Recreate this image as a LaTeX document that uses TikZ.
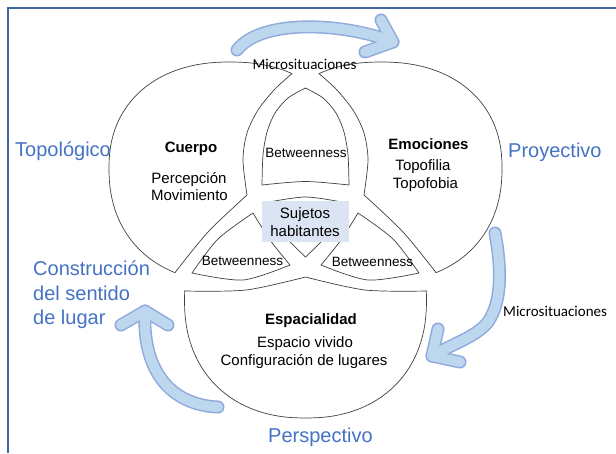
\documentclass[tikz,border=0pt]{standalone}
\usepackage{fontspec}
\setmainfont{Liberation Sans}
\newfontfamily\carlito{Carlito}
\definecolor{blueone}{RGB}{68,114,196}
\definecolor{arrowfillc}{RGB}{189,215,238}
\definecolor{arrowedge}{RGB}{143,170,220}
\definecolor{framec}{RGB}{65,100,165}
\definecolor{boxc}{RGB}{219,228,243}
\tikzset{declare function={spow(\a)=sign(\a)*(abs(\a)+0.00001)^0.9;}}
\begin{document}
\begin{tikzpicture}[x=1pt,y=-1pt,
 region/.style={draw=black!75,line width=0.7pt,fill=white},
 body/.style={font=\fontsize{15}{18}\selectfont,inner sep=0pt,anchor=base},
 head/.style={font=\fontsize{15}{18}\selectfont\bfseries,inner sep=0pt,anchor=base},
 betw/.style={font=\fontsize{13.5}{16}\selectfont,inner sep=0pt,anchor=base},
 micro/.style={font=\carlito\fontsize{15}{18}\selectfont,inner sep=0pt},
 lbl/.style={font=\fontsize{20}{24}\selectfont,text=blueone,inner sep=0pt,anchor=base west},
 arrB/.style={draw=arrowedge,line width=13pt,line cap=round,line join=round},
 arrF/.style={draw=arrowfillc,line width=10pt,line cap=round,line join=round}]
\useasboundingbox (0,0) rectangle (616,453);
\fill[white] (0,0) rectangle (616,453);
\draw[framec,line width=1.2pt] (8,453) -- (8,8) -- (616,8);

% A only (Cuerpo)
\draw[region] plot[domain=61.6:180,samples=40,variable=\t] ({230+121*spow(cos(\t))},{168-106*spow(sin(\t))})
 -- plot[domain=180:245.4,samples=25,variable=\t] ({230+121*spow(cos(\t))},{168-114*spow(sin(\t))})
 -- plot[smooth] coordinates {(175,272.6) (208,232) (247,195)}
 -- plot[smooth] coordinates {(247,195) (243,160) (247,133) (258,110) (275,89) (292,73.6)} -- cycle;
% B only (Emociones)
\draw[region] plot[domain=-65.4:0,samples=25,variable=\t] ({381+121*spow(cos(\t))},{168-114*spow(sin(\t))})
 -- plot[domain=0:118.4,samples=40,variable=\t] ({381+121*spow(cos(\t))},{168-106*spow(sin(\t))})
 -- plot[smooth] coordinates {(319,73.6) (336,89) (353,110) (364,133) (368,160) (364,195)}
 -- plot[smooth] coordinates {(364,195) (403,232) (436,272.6)} -- cycle;
% top lens
\draw[region] plot[smooth] coordinates {(262,185) (263,155) (267,132) (275,113) (288,98) (305.5,88)}
 -- plot[smooth] coordinates {(305.5,88) (323,98) (336,113) (344,132) (348,155) (349,185)}
 -- plot[smooth] coordinates {(349,185) (305.5,181.5) (262,185)} -- cycle;
% centre
\draw[region] plot[smooth] coordinates {(264,203) (305.5,197) (347,203)}
 -- plot[smooth] coordinates {(347,203) (329,233) (305.5,257)}
 -- plot[smooth] coordinates {(305.5,257) (282,233) (264,203)} -- cycle;
% lower left lens
\draw[region] plot[smooth] coordinates {(192,273) (218,239) (253,213)}
 -- plot[smooth] coordinates {(253,213) (270,240) (290,265)}
 -- plot[smooth] coordinates {(290,265) (243,280) (192,273)} -- cycle;
% lower right lens
\draw[region] plot[smooth] coordinates {(419,273) (393,239) (358,213)}
 -- plot[smooth] coordinates {(358,213) (341,240) (321,265)}
 -- plot[smooth] coordinates {(321,265) (368,280) (419,273)} -- cycle;
% C only (Espacialidad)
\draw[region] plot[domain=176.7:363.3,samples=60,variable=\t] ({305.5+121*spow(cos(\t))},{300-118*spow(sin(\t))})
 -- plot[smooth] coordinates {(426.3,291) (365,290) (305.5,277)}
 -- plot[smooth] coordinates {(305.5,277) (246,290) (184.7,291)} -- cycle;

\fill[boxc] (262,201) rectangle (349,242);

% texts
\node[micro,anchor=base] (mtop) at (304.5,69) {Microsituaciones};
\node[micro,anchor=base west] (mright) at (503,316.5) {Microsituaciones};
\node[head] (cuerpo) at (191,152) {Cuerpo};
\node[body] (perc) at (189,183) {Percepción};
\node[body] (movi) at (189.5,200.7) {Movimiento};
\node[head] (emoc) at (428.5,149) {Emociones};
\node[body] (tfil) at (423,170.5) {Topofilia};
\node[body] (tfob) at (425.5,188) {Topofobia};
\node[betw] (btop) at (306,157) {Betweenness};
\node[betw] (bleft) at (242.5,265) {Betweenness};
\node[betw] (bright) at (372.5,266.5) {Betweenness};
\node[body] (suj) at (305,218) {Sujetos};
\node[body] (hab) at (305,236) {habitantes};
\node[head] (espa) at (311,324) {Espacialidad};
\node[body] (eviv) at (305,347) {Espacio vivido};
\node[body] (conf) at (304,365) {Configuración de lugares};

\node[lbl] (topo) at (15,156) {Topológico};
\node[lbl] (proy) at (508,157) {Proyectivo};
\node[lbl] (pers) at (268,442) {Perspectivo};
\node[lbl] (con1) at (33,275) {Construcción};
\node[lbl] (con2) at (33,300) {del sentido};
\node[lbl] (con3) at (33,324) {de lugar};

% arrows
\coordinate (ta0) at (237,50);
\coordinate (ta1) at (393,42);
\coordinate (ra0) at (495,233);
\coordinate (ram) at (488,322);
\coordinate (ra1) at (432,356);
\coordinate (la0) at (218,407);
\coordinate (la1) at (145,311);
\foreach \s in {arrB,arrF}{
 \draw[\s] (ta0) .. controls (262,18) and (345,23) .. (ta1);
 \draw[\s] (381,20) -- (ta1) -- (365,52);
 \draw[\s] (ra0) .. controls (501,265) and (503,300) .. (ram) .. controls (476,337) and (452,344) .. (ra1);
 \draw[\s] (438,329) -- (ra1) -- (460,362);
 \draw[\s] (la0) .. controls (170,405) and (142,370) .. (la1);
 \draw[\s] (121,325) -- (la1) -- (168,325);
}
\end{tikzpicture}
\end{document}
